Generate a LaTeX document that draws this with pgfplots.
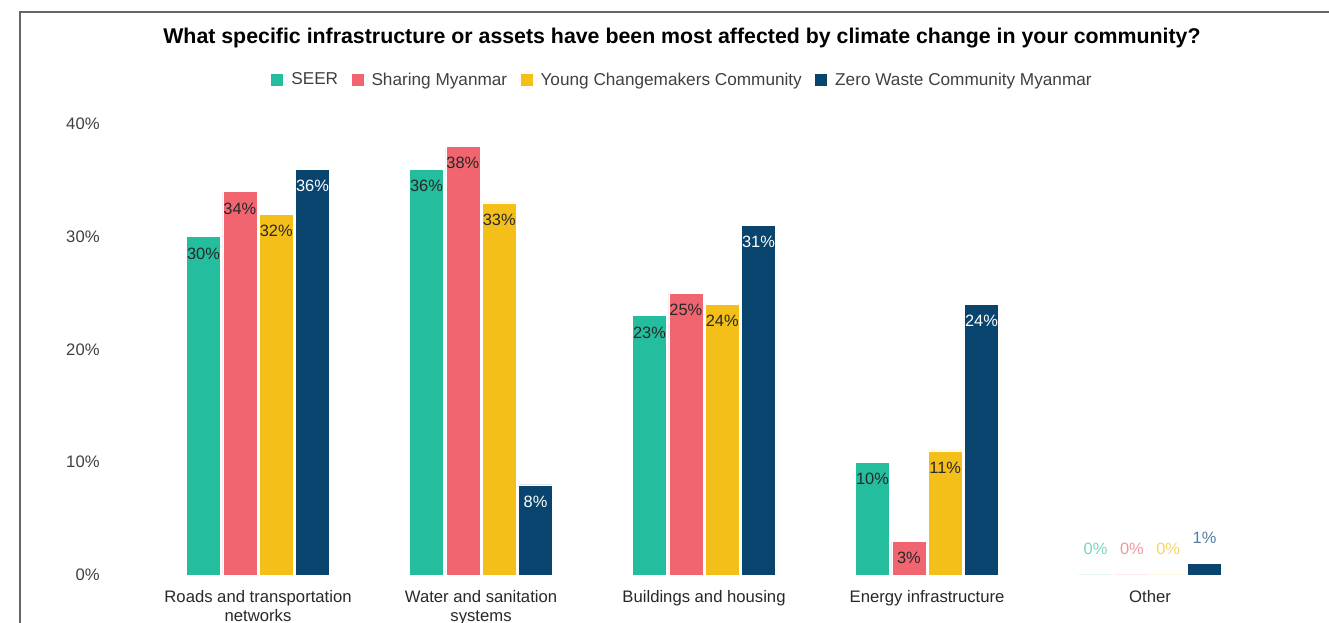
\documentclass[border=0pt]{standalone}
\usepackage{pgfplots}
\pgfplotsset{compat=1.18}
\usepackage{fontspec}
\setmainfont{Liberation Sans}
\definecolor{cSeer}{RGB}{36,189,157}
\definecolor{cShar}{RGB}{240,101,112}
\definecolor{cYoung}{RGB}{245,191,25}
\definecolor{cZero}{RGB}{8,68,110}
\definecolor{cSeerL}{RGB}{120,212,190}
\definecolor{cSharL}{RGB}{245,150,156}
\definecolor{cYoungL}{RGB}{248,212,100}
\definecolor{cZeroL}{RGB}{85,125,165}
\definecolor{txt}{RGB}{40,40,40}
\begin{document}
\begin{tikzpicture}
\path[use as bounding box] (0,0) rectangle (996.75pt,467.25pt);
\draw[black!60, line width=1.1pt] (15pt,-5pt) -- (15pt,458.25pt) -- (1005pt,458.25pt);
\node[font=\bfseries\fontsize{16}{19}\selectfont] at (511.5pt,438.5pt) {What specific infrastructure or assets have been most affected by climate change in your community?};
\begin{axis}[
  at={(109.9pt,36pt)}, anchor=south west,
  scale only axis, width=836.25pt, height=338.25pt,
  ybar=1.75pt, bar width=25.5pt,
  xmin=-0.5, xmax=4.5, ymin=0, ymax=40,
  axis line style={draw=none}, tick style={draw=none},
  xtick={0,1,2,3,4},
  xticklabels={{Roads and transportation\\networks},{Water and sanitation\\systems},{Buildings and housing},{Energy infrastructure},{Other}},
  xticklabel style={align=center, font=\fontsize{12.5}{14.5}\selectfont, text=txt, anchor=north, inner sep=0pt, yshift=-7pt},
  ytick={0,10,20,30,40},
  yticklabel={\pgfmathprintnumber{\tick}\%},
  yticklabel style={font=\fontsize{12.5}{14}\selectfont, text=black!75, anchor=east, inner sep=0pt, xshift=-35pt},
  /pgf/number format/assume math mode=true,
  nodes near coords={\pgfmathprintnumber{\pgfplotspointmeta}\%},
  every node near coord/.append style={font=\fontsize{12.3}{14}\selectfont, inner sep=0pt},
  legend columns=4,
  legend style={at={(0.481,1.0976)}, anchor=center, draw=none, fill=none,
    font=\fontsize{12.9}{14}\selectfont, text=black!75,
    /tikz/every even column/.append style={column sep=8pt}},
  legend image code/.code={\fill[#1, draw=none] (0pt,-4.5pt) rectangle (9pt,4.5pt); \path[draw=none, fill=none] (0pt,0pt) -- (13pt,0pt);},
]
\addplot[fill=cSeer, draw=white, line width=0.4pt,
  coordinate style/.condition={x<3.5}{anchor=north, yshift=-8pt, text=txt},
  coordinate style/.condition={x>3.5}{anchor=south, yshift=15pt, text=cSeerL}]
  coordinates {(0,30) (1,36) (2,23) (3,10) (4,0)};
\addplot[fill=cShar, draw=white, line width=0.4pt,
  coordinate style/.condition={x<3.5}{anchor=north, yshift=-8pt, text=txt},
  coordinate style/.condition={x>3.5}{anchor=south, yshift=15pt, text=cSharL}]
  coordinates {(0,34) (1,38) (2,25) (3,3) (4,0)};
\addplot[fill=cYoung, draw=white, line width=0.4pt,
  coordinate style/.condition={x<3.5}{anchor=north, yshift=-8pt, text=txt},
  coordinate style/.condition={x>3.5}{anchor=south, yshift=15pt, text=cYoungL}]
  coordinates {(0,32) (1,33) (2,24) (3,11) (4,0)};
\addplot[fill=cZero, draw=white, line width=0.4pt,
  coordinate style/.condition={x<3.5}{anchor=north, yshift=-8pt, text=white},
  coordinate style/.condition={x>3.5}{anchor=south, yshift=15pt, text=cZeroL}]
  coordinates {(0,36) (1,8) (2,31) (3,24) (4,1)};
\legend{SEER, Sharing Myanmar, Young Changemakers Community, Zero Waste Community Myanmar}
\end{axis}
\end{tikzpicture}
\end{document}
